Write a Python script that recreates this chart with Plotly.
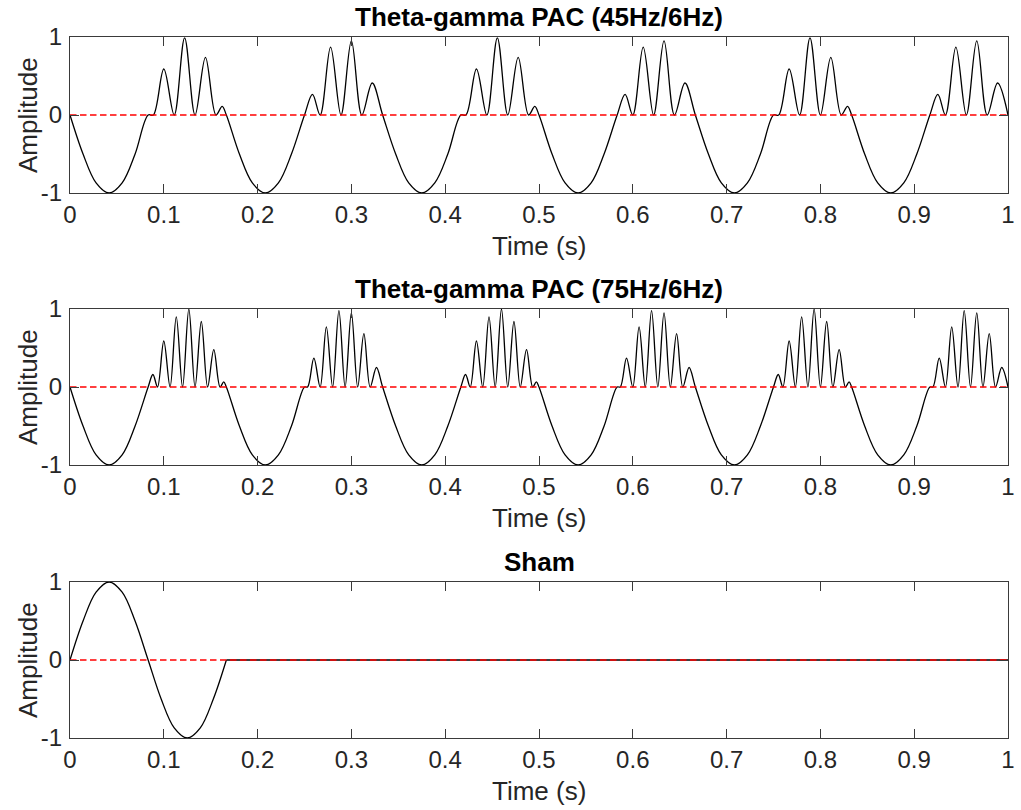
import plotly.graph_objects as go

# ---------------- data ----------------
PAC45_T = [0.0, 0.0139, 0.0278, 0.0417, 0.0556, 0.0694, 0.0833, 0.0889, 0.1, 0.1111, 0.1222, 0.1333, 0.1444, 0.1556, 0.1622,
           0.1667, 0.1806, 0.1944, 0.2083, 0.2222, 0.2361, 0.25, 0.2585, 0.2667, 0.2778, 0.2889, 0.3, 0.3111, 0.3222,
           0.3333, 0.3472, 0.3611, 0.375, 0.3889, 0.4028, 0.4167, 0.4222, 0.4333, 0.4444, 0.4556, 0.4667, 0.4778, 0.4889, 0.4955,
           0.5, 0.5139, 0.5278, 0.5417, 0.5556, 0.5694, 0.5833, 0.5918, 0.6, 0.6111, 0.6222, 0.6333, 0.6444, 0.6556,
           0.6667, 0.6806, 0.6944, 0.7083, 0.7222, 0.7361, 0.75, 0.7556, 0.7667, 0.7778, 0.7889, 0.8, 0.8111, 0.8222, 0.8289,
           0.8333, 0.8472, 0.8611, 0.875, 0.8889, 0.9028, 0.9167, 0.9252, 0.9333, 0.9444, 0.9556, 0.9667, 0.9778, 0.9889, 1.0]
PAC45_Y = [0, -0.5, -0.87, -1, -0.87, -0.5, 0, 0, 0.59, 0, 0.99, 0, 0.74, 0, 0.11,
           0, -0.5, -0.87, -1, -0.87, -0.5, 0, 0.265, 0, 0.87, 0, 0.95, 0, 0.41,
           0, -0.5, -0.87, -1, -0.87, -0.5, 0, 0, 0.59, 0, 0.99, 0, 0.74, 0, 0.11,
           0, -0.5, -0.87, -1, -0.87, -0.5, 0, 0.265, 0, 0.87, 0, 0.95, 0, 0.41,
           0, -0.5, -0.87, -1, -0.87, -0.5, 0, 0, 0.59, 0, 0.99, 0, 0.74, 0, 0.11,
           0, -0.5, -0.87, -1, -0.87, -0.5, 0, 0.265, 0, 0.87, 0, 0.95, 0, 0.41, 0]

PAC75_T = [0.0, 0.0139, 0.0278, 0.0417, 0.0556, 0.0694, 0.0833, 0.0884, 0.0933, 0.1, 0.1067, 0.1133, 0.12, 0.1267, 0.1333, 0.14, 0.1467, 0.1533, 0.16, 0.1639,
           0.1667, 0.1806, 0.1944, 0.2083, 0.2222, 0.2361, 0.25, 0.2533, 0.26, 0.2667, 0.2733, 0.28, 0.2867, 0.2933, 0.3, 0.3067, 0.3133, 0.32, 0.3267,
           0.3333, 0.3472, 0.3611, 0.375, 0.3889, 0.4028, 0.4167, 0.4217, 0.4267, 0.4333, 0.44, 0.4467, 0.4533, 0.46, 0.4667, 0.4733, 0.48, 0.4867, 0.4933, 0.4972,
           0.5, 0.5139, 0.5278, 0.5417, 0.5556, 0.5694, 0.5833, 0.5867, 0.5933, 0.6, 0.6067, 0.6133, 0.62, 0.6267, 0.6333, 0.64, 0.6467, 0.6533, 0.66,
           0.6667, 0.6806, 0.6944, 0.7083, 0.7222, 0.7361, 0.75, 0.7551, 0.76, 0.7667, 0.7733, 0.78, 0.7867, 0.7933, 0.8, 0.8067, 0.8133, 0.82, 0.8267, 0.8306,
           0.8333, 0.8472, 0.8611, 0.875, 0.8889, 0.9028, 0.9167, 0.92, 0.9267, 0.9333, 0.94, 0.9467, 0.9533, 0.96, 0.9667, 0.9733, 0.98, 0.9867, 0.9933, 1.0]
PAC75_Y = [0, -0.5, -0.87, -1, -0.87, -0.5, 0, 0.16, 0, 0.59, 0, 0.9, 0, 1.0, 0, 0.84, 0, 0.48, 0, 0.066,
           0, -0.5, -0.87, -1, -0.87, -0.5, 0, 0, 0.37, 0, 0.77, 0, 0.98, 0, 0.95, 0, 0.685, 0, 0.25,
           0, -0.5, -0.87, -1, -0.87, -0.5, 0, 0.16, 0, 0.59, 0, 0.9, 0, 1.0, 0, 0.84, 0, 0.48, 0, 0.066,
           0, -0.5, -0.87, -1, -0.87, -0.5, 0, 0, 0.37, 0, 0.77, 0, 0.98, 0, 0.95, 0, 0.685, 0, 0.25,
           0, -0.5, -0.87, -1, -0.87, -0.5, 0, 0.16, 0, 0.59, 0, 0.9, 0, 1.0, 0, 0.84, 0, 0.48, 0, 0.066,
           0, -0.5, -0.87, -1, -0.87, -0.5, 0, 0, 0.37, 0, 0.77, 0, 0.98, 0, 0.95, 0, 0.685, 0, 0.25, 0]

SHAM_T = [0.0, 0.0139, 0.0278, 0.0417, 0.0556, 0.0694, 0.0833, 0.0972, 0.1111, 0.125, 0.1389, 0.1528, 0.1667, 1.0]
SHAM_Y = [0, 0.5, 0.87, 1, 0.87, 0.5, 0, -0.5, -0.87, -1, -0.87, -0.5, 0, 0]
SHAM_WAVE_END = 12  # index where the burst ends and the flat part begins

ZERO_T = [0, 1]
ZERO_Y = [0, 0]

X_TICKS = [0, 0.1, 0.2, 0.3, 0.4, 0.5, 0.6, 0.7, 0.8, 0.9, 1]
X_TICK_LABELS = ["0", "0.1", "0.2", "0.3", "0.4", "0.5", "0.6", "0.7", "0.8", "0.9", "1"]
Y_TICKS = [-1, 0, 1]
Y_TICK_LABELS = ["-1", "0", "1"]

TITLES = ["Theta-gamma PAC (45Hz/6Hz)", "Theta-gamma PAC (75Hz/6Hz)", "Sham"]
X_LABEL = "Time (s)"
Y_LABEL = "Amplitude"

# ---------------- layout geometry (pixels) ----------------
W, H = 1021, 810
LEFT, RIGHT = 70, 1008
BOXES = [(37, 193), (309, 465), (582, 738)]
FONT = "Liberation Sans, Arial, Helvetica, sans-serif"
TEXT_COLOR = "#262626"
AX_COLOR = "#3a3a3a"
TICK_SIZE = 24
LABEL_SIZE = 26
TITLE_SIZE = 26

fig = go.Figure()

wave_line = dict(color="black", width=1.3, shape="spline", smoothing=1.0)
zero_line = dict(color="#ff0000", width=1.5, dash="6.5px,3.5px")

panels = [
    [(PAC45_T, PAC45_Y, wave_line)],
    [(PAC75_T, PAC75_Y, wave_line)],
    [(SHAM_T[:SHAM_WAVE_END + 1], SHAM_Y[:SHAM_WAVE_END + 1], wave_line),
     (SHAM_T[SHAM_WAVE_END:], SHAM_Y[SHAM_WAVE_END:], dict(color="black", width=1.3))],
]

for i, traces in enumerate(panels):
    xa = "x" if i == 0 else f"x{i+1}"
    ya = "y" if i == 0 else f"y{i+1}"
    for tx, ty, ln in traces:
        fig.add_trace(go.Scatter(x=tx, y=ty, mode="lines", line=ln, xaxis=xa, yaxis=ya,
                                 hoverinfo="skip", showlegend=False))
    fig.add_trace(go.Scatter(x=ZERO_T, y=ZERO_Y, mode="lines", line=zero_line, xaxis=xa, yaxis=ya,
                             hoverinfo="skip", showlegend=False))

layout = dict(
    width=W, height=H, autosize=False,
    margin=dict(l=0, r=0, t=0, b=0, pad=0),
    paper_bgcolor="white", plot_bgcolor="white",
    font=dict(family=FONT, color=TEXT_COLOR),
    showlegend=False,
)

annotations = []
for i, (top, bot) in enumerate(BOXES):
    xk = "xaxis" if i == 0 else f"xaxis{i+1}"
    yk = "yaxis" if i == 0 else f"yaxis{i+1}"
    yref = "y" if i == 0 else f"y{i+1}"
    xref = "x" if i == 0 else f"x{i+1}"
    common = dict(showline=True, linecolor=AX_COLOR, linewidth=1, mirror="ticks",
                  ticks="inside", ticklen=9, tickwidth=1, tickcolor=AX_COLOR,
                  showgrid=False, zeroline=False, fixedrange=True, automargin=False,
                  tickfont=dict(family=FONT, size=TICK_SIZE, color=TEXT_COLOR))
    layout[xk] = dict(common, domain=[LEFT / W, RIGHT / W], range=[0, 1], anchor=yref,
                      tickmode="array", tickvals=X_TICKS, ticktext=X_TICK_LABELS,
                      ticklabelstandoff=0)
    layout[yk] = dict(common, domain=[1 - bot / H, 1 - top / H], range=[-1, 1], anchor=xref,
                      tickmode="array", tickvals=Y_TICKS, ticktext=Y_TICK_LABELS,
                      ticklabelstandoff=2)
    cx = (LEFT + RIGHT) / 2 / W
    annotations.append(dict(text=TITLES[i], x=cx, y=1 - (top - 20.5) / H, xref="paper", yref="paper",
                            xanchor="center", yanchor="middle", showarrow=False,
                            font=dict(family=FONT, size=TITLE_SIZE, color="black", weight="bold")))
    annotations.append(dict(text=X_LABEL, x=cx, y=1 - (bot + 53) / H, xref="paper", yref="paper",
                            xanchor="center", yanchor="middle", showarrow=False,
                            font=dict(family=FONT, size=LABEL_SIZE, color=TEXT_COLOR)))
    annotations.append(dict(text=Y_LABEL, x=28 / W, y=1 - (top + bot) / 2 / H, xref="paper", yref="paper",
                            xanchor="center", yanchor="middle", showarrow=False, textangle=-90,
                            font=dict(family=FONT, size=LABEL_SIZE, color=TEXT_COLOR)))

layout["annotations"] = annotations
fig.update_layout(**layout)
fig.write_html("out.html", config={"displayModeBar": False},
               post_script="document.body.style.margin='0';document.body.style.padding='0';")
